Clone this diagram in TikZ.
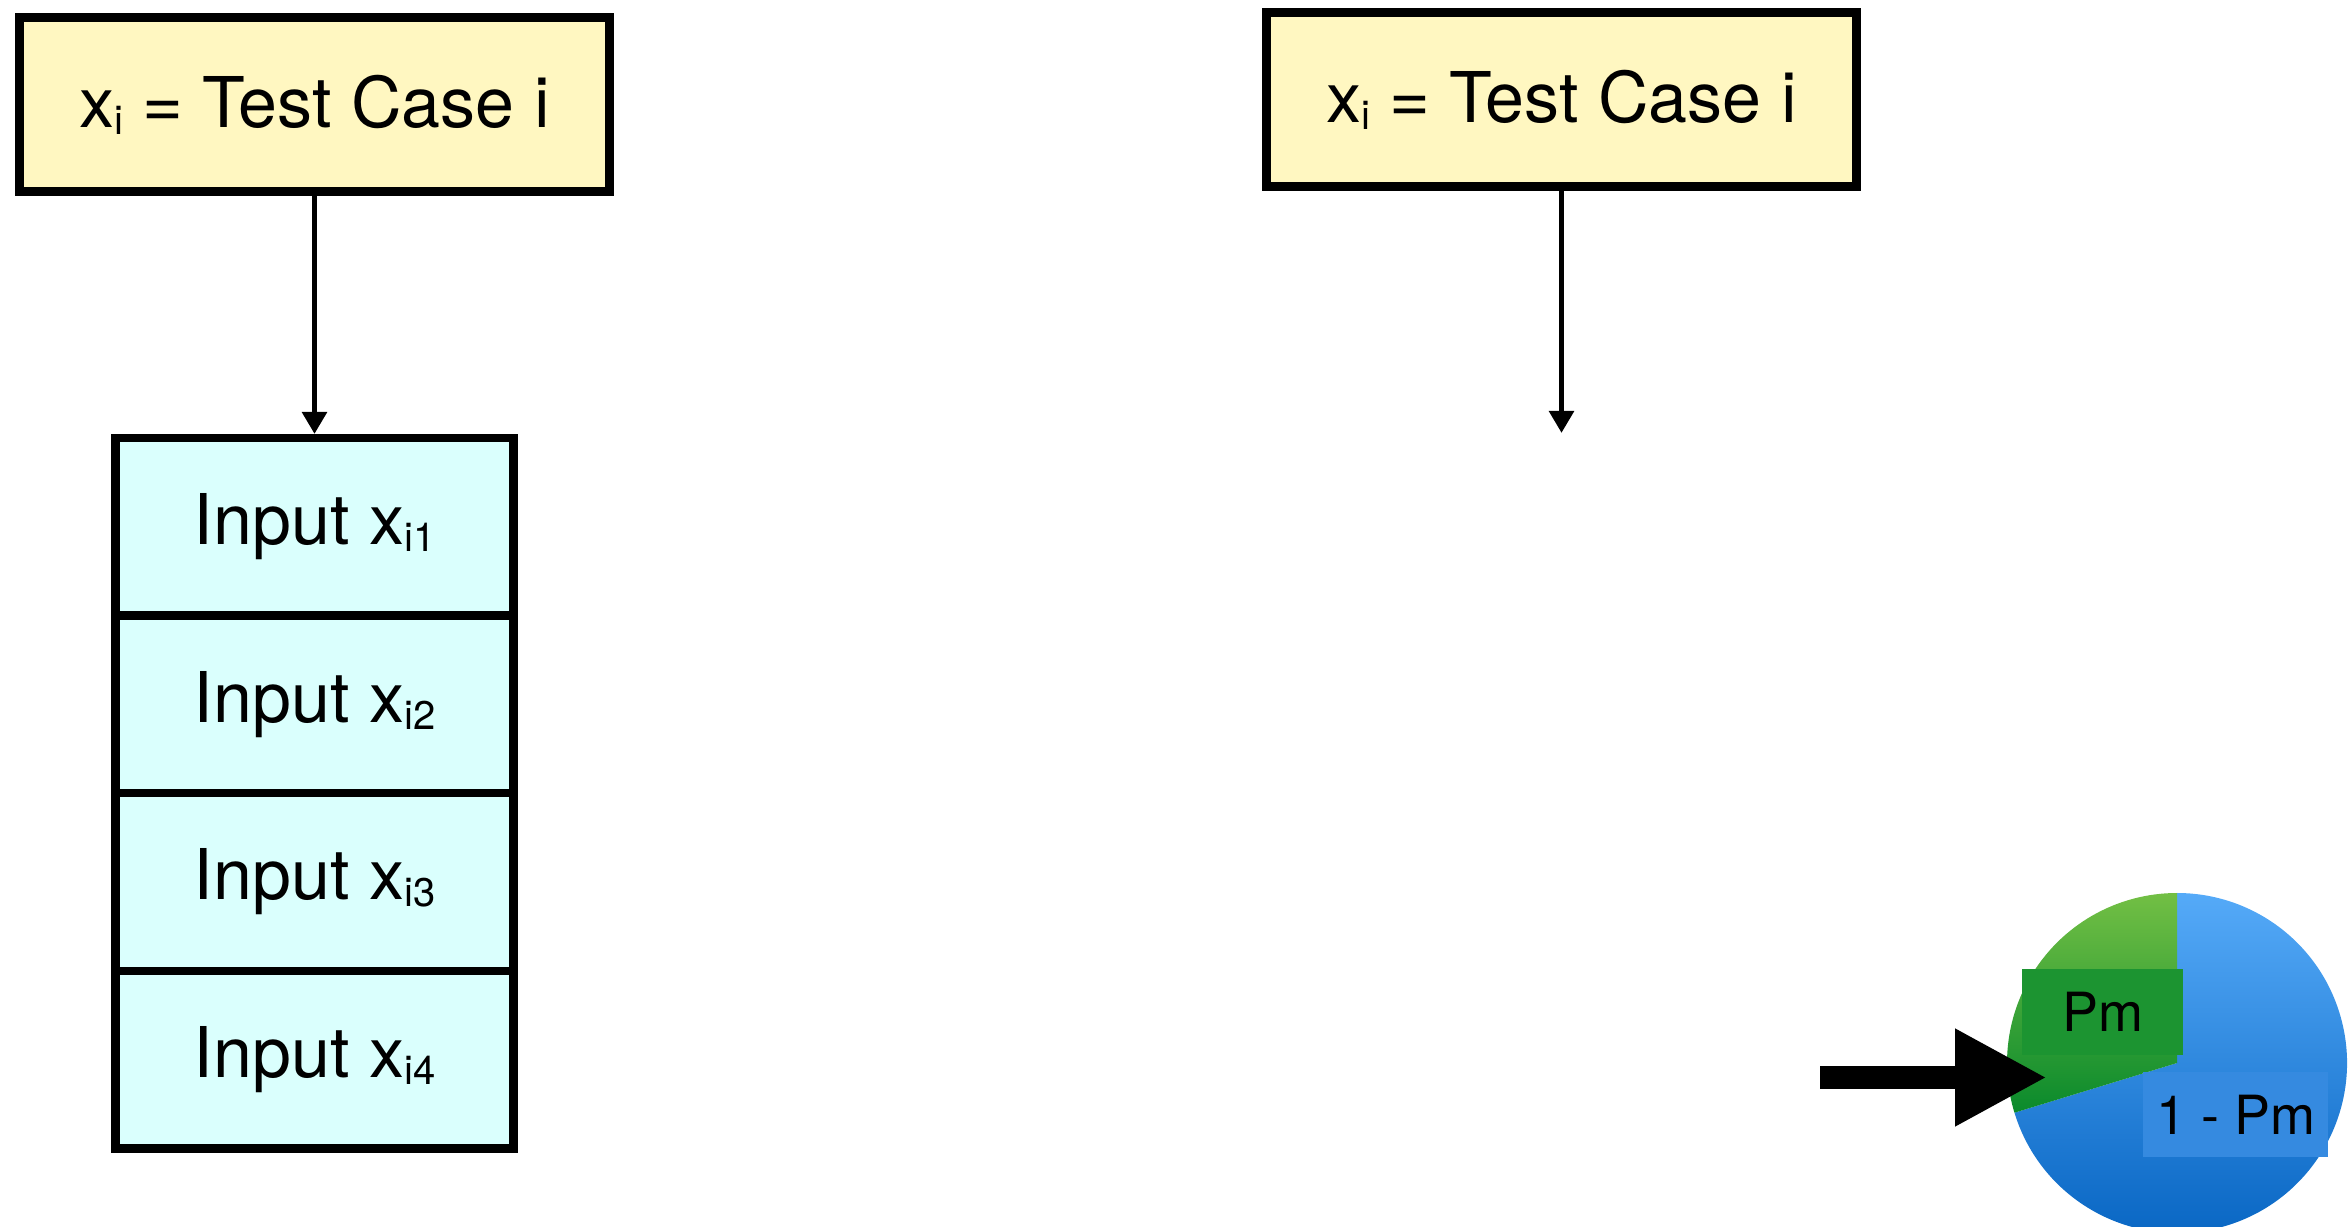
\documentclass[tikz,border=0pt]{standalone}
\usepackage{fontspec}
\setmainfont{TeX Gyre Heros}
\usetikzlibrary{arrows.meta}

\definecolor{caseyellow}{HTML}{FFF7C1}
\definecolor{inputcyan}{HTML}{DAFFFD}
\definecolor{greentop}{HTML}{72BF44}
\definecolor{greenbot}{HTML}{0A8A2C}
\definecolor{bluetop}{HTML}{55AAF8}
\definecolor{bluebot}{HTML}{0563C1}
\definecolor{pmfill}{HTML}{1C9431}
\definecolor{qmfill}{HTML}{358AE0}

% small lowered index after a variable name
\newcommand{\idx}[1]{\raisebox{-0.1em}{\fontsize{20}{20}\selectfont #1}}

\begin{document}
\begin{tikzpicture}[x=0.5pt,y=0.5pt,
  casebox/.style={draw, line width=4.25pt, fill=caseyellow, inner sep=0pt,
    minimum width=295pt, minimum height=87pt, font=\fontsize{35}{40}\selectfont},
  inputcell/.style={draw, line width=4.25pt, fill=inputcyan, inner sep=0pt,
    minimum width=199pt, minimum height=88.75pt, font=\fontsize{35}{40}\selectfont},
  flow/.style={line width=2.75pt, -{Triangle[width=12pt,length=11pt]}},
  pielabel/.style={inner sep=0pt, font=\fontsize{27}{30}\selectfont},
  bigarrow/.style={line width=11.5pt, -{Triangle[width=45.5pt,length=46pt]}}
]
\useasboundingbox (0,0) rectangle (2348,1226);

% left: test case split into its inputs
\node[casebox] (caseL) at (314.5,1121.5) {x\idx{i} = Test Case i};
\node[inputcell] (in1) at (314.5,699) {Input x\idx{i1}};
\node[inputcell] (in2) at (314.5,521.5) {Input x\idx{i2}};
\node[inputcell] (in3) at (314.5,344) {Input x\idx{i3}};
\node[inputcell] (in4) at (314.5,166.5) {Input x\idx{i4}};
\draw[flow] (caseL.south) -- (in1.north);

% right: test case with open arrow
\node[casebox] (caseR) at (1561.5,1126.5) {x\idx{i} = Test Case i};
\coordinate (rtip) at (1561.5,793);
\draw[flow] (caseR.south) -- (rtip);

% mutation probability pie
\coordinate (pc) at (2177,163);
\shade[top color=bluetop, bottom color=bluebot]
  (pc) -- ++(197:170) arc[start angle=197, end angle=450, radius=170] -- cycle;
\shade[top color=greentop, bottom color=greenbot]
  (pc) -- ++(90:170) arc[start angle=90, end angle=197, radius=170] -- cycle;
\node[pielabel, fill=pmfill, minimum width=80.5pt, minimum height=43pt] (pm) at (2102.5,214) {Pm};
\node[pielabel, fill=qmfill, minimum width=92.5pt, minimum height=42.5pt] (qm) at (2235.5,111.5) {1 - Pm};

% selector arrow
\coordinate (bs) at (1820,148.5);
\coordinate (be) at (2047,148.5);
\draw[bigarrow] (bs) -- (be);
\end{tikzpicture}
\end{document}
